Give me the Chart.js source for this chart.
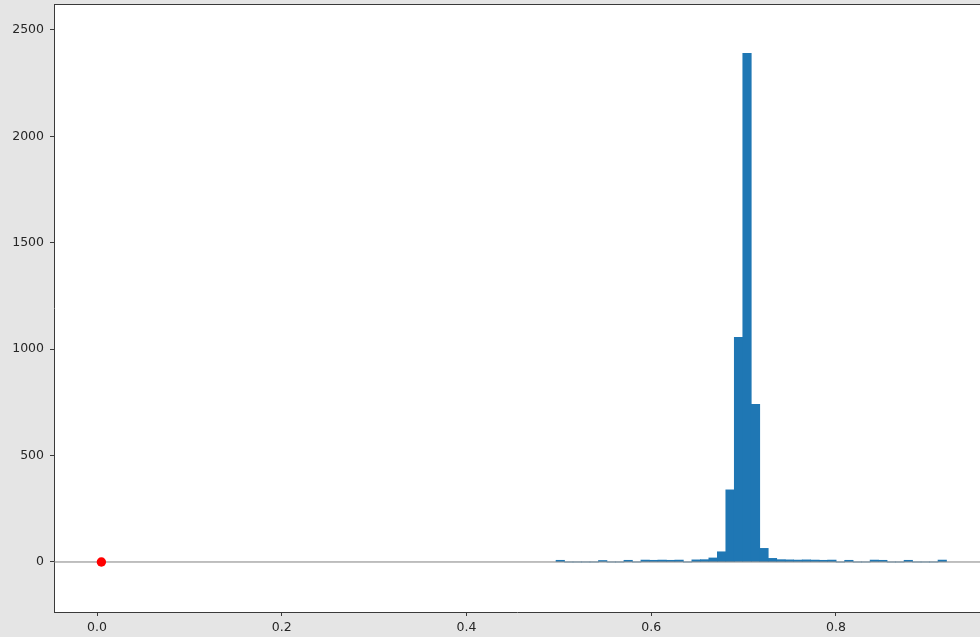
<!DOCTYPE html>
<html>
<head>
<meta charset="utf-8">
<script src="https://cdn.jsdelivr.net/npm/chart.js@4/dist/chart.umd.min.js"></script>
<style>
  html, body { margin: 0; padding: 0; background: #e5e5e5; overflow: hidden; }
  #wrap { width: 980px; height: 637px; }
</style>
</head>
<body>
<div id="wrap"><canvas id="c" width="980" height="637"></canvas></div>
<script>
// ---- data ----
const binStart = 0.4969;      // left edge of first histogram bin
const binWidth = 0.00919;     // histogram bin width
const binCounts = [
  8, 0, 0, 0, 0, 7, 0, 0, 8, 0,
  9, 8, 9, 8, 9, 0, 10, 11, 19, 48,
  339, 1056, 2390, 741, 64, 17, 11, 10, 9, 10,
  9, 8, 9, 0, 8, 0, 0, 9, 8, 0,
  0, 8, 0, 0, 0, 9
];
const markerPoint = [{ x: 0.0047, y: 0 }];
const refLineY = 0;
const xLimits = [-0.0466, 0.9559];
const yLimits = [-235, 2622];
const xTicks = [0, 0.2, 0.4, 0.6, 0.8];
const yTicks = [0, 500, 1000, 1500, 2000, 2500];

// ---- derived ----
const histData = binCounts.map((c, i) => ({ x: binStart + binWidth * (i + 0.5), y: c }));
const refLine = [{ x: xLimits[0], y: refLineY }, { x: xLimits[1], y: refLineY }];

const spineColor = '#3a3a3a';
const font = { family: 'DejaVu Sans', size: 12.5 };

const framePlugin = {
  id: 'frame',
  beforeDraw(chart) {
    const { ctx, chartArea: a } = chart;
    ctx.save();
    ctx.fillStyle = '#ffffff';
    ctx.fillRect(a.left, a.top, a.right - a.left, a.bottom - a.top);
    ctx.restore();
  },
  afterDraw(chart) {
    const { ctx, chartArea: a } = chart;
    ctx.save();
    ctx.strokeStyle = spineColor;
    ctx.lineWidth = 1;
    ctx.beginPath();
    ctx.moveTo(a.left, Math.round(a.top) + 0.5);
    ctx.lineTo(a.right, Math.round(a.top) + 0.5);
    ctx.stroke();
    ctx.restore();
  }
};

function zeroPad(s) {
  s.paddingTop = 0; s.paddingBottom = 0; s.paddingLeft = 0; s.paddingRight = 0;
}

new Chart(document.getElementById('c'), {
  data: {
    datasets: [
      {
        type: 'scatter',
        data: markerPoint,
        pointRadius: 4.7,
        pointBackgroundColor: '#ff0000',
        pointBorderWidth: 0,
        order: 0
      },
      {
        type: 'line',
        data: refLine,
        borderColor: '#808080',
        borderWidth: 1,
        pointRadius: 0,
        order: 1
      },
      {
        type: 'bar',
        data: histData,
        backgroundColor: '#1f77b4',
        borderWidth: 0,
        barPercentage: 1.0,
        categoryPercentage: 1.0,
        grouped: false,
        order: 2
      }
    ]
  },
  options: {
    responsive: false,
    animation: false,
    events: [],
    layout: { autoPadding: false, padding: { top: 4, right: 0, bottom: 0, left: 0 } },
    plugins: { legend: { display: false }, tooltip: { enabled: false } },
    scales: {
      x: {
        type: 'linear',
        offset: false,
        min: xLimits[0],
        max: xLimits[1],
        afterBuildTicks: s => { s.ticks = xTicks.map(v => ({ value: v })); },
        afterFit: s => { s.height = 25; zeroPad(s); },
        ticks: {
          font: font,
          color: '#262626',
          padding: 4.5,
          maxRotation: 0,
          callback: v => Number(v).toFixed(1)
        },
        grid: { display: true, offset: false, drawOnChartArea: false, drawTicks: true, tickLength: 4, color: spineColor },
        border: { display: true, color: spineColor, width: 1 }
      },
      y: {
        type: 'linear',
        min: yLimits[0],
        max: yLimits[1],
        afterBuildTicks: s => { s.ticks = yTicks.map(v => ({ value: v })); },
        afterFit: s => { s.width = 54; zeroPad(s); },
        ticks: {
          font: font,
          color: '#262626',
          padding: 6,
          callback: v => String(v)
        },
        grid: { display: true, drawOnChartArea: false, drawTicks: true, tickLength: 4, color: spineColor },
        border: { display: true, color: spineColor, width: 1 }
      }
    }
  },
  plugins: [framePlugin]
});
</script>
</body>
</html>
